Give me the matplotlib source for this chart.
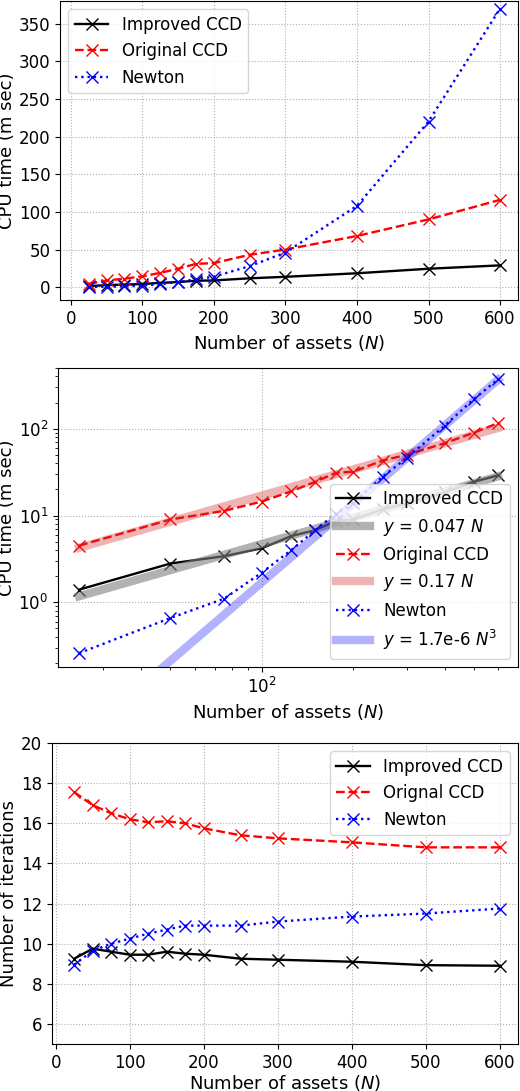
import matplotlib
matplotlib.use("Agg")
import matplotlib.pyplot as plt
import numpy as np

N = [25, 50, 75, 100, 125, 150, 175, 200, 250, 300, 400, 500, 600]
t_improved = [1.4, 2.8, 3.4, 4.2, 5.8, 6.8, 8.6, 9.0, 11.8, 13.8, 18.5, 24.5, 29.0]
t_original = [4.5, 9.0, 11.3, 14.5, 19.0, 24.5, 31.0, 32.0, 43.0, 50.0, 68.0, 90.0, 116.0]
t_newton = [0.26, 0.66, 1.1, 2.2, 4.0, 6.8, 10.5, 14.0, 28.0, 46.0, 108.0, 220.0, 370.0]
it_improved = [9.25, 9.75, 9.6, 9.45, 9.45, 9.6, 9.5, 9.45, 9.25, 9.2, 9.1, 8.93, 8.9]
it_original = [17.55, 16.9, 16.5, 16.2, 16.05, 16.1, 16.0, 15.75, 15.4, 15.25, 15.05, 14.8, 14.8]
it_newton = [8.95, 9.65, 10.0, 10.25, 10.5, 10.7, 10.9, 10.9, 10.9, 11.1, 11.35, 11.5, 11.75]
fit_improved = 0.047
fit_original = 0.17
fit_newton = 1.7e-6

plt.rcParams['lines.linewidth'] = 1.7
plt.rcParams['lines.markersize'] = 8
FS = 13
TS = 12
LS = 12

fig = plt.figure(figsize=(5.2, 10.91), dpi=100)
W, H = 520, 1091
def ax_at(l, t, r, b):
    return fig.add_axes([l / W, 1 - b / H, (r - l) / W, (b - t) / H])

ax1 = ax_at(60, 1, 518, 300)
ax1.plot(N, t_improved, 'k-x', label='Improved CCD')
ax1.plot(N, t_original, 'r--x', label='Original CCD')
ax1.plot(N, t_newton, 'b:x', label='Newton')
ax1.set_xlim(-15, 625)
ax1.set_ylim(-17, 380)
ax1.set_xticks([0, 100, 200, 300, 400, 500, 600])
ax1.grid(True, linestyle=':')
ax1.set_ylabel('CPU time (m sec)', fontsize=FS, labelpad=2)
ax1.set_xlabel('Number of assets ($N$)', fontsize=FS)
ax1.legend(loc='upper left', fontsize=LS)
ax1.tick_params(labelsize=TS)

ax2 = ax_at(58, 368, 518, 667)
Na = np.array(N, dtype=float)
ax2.plot(N, t_improved, 'k-x', label='Improved CCD')
ax2.plot(N, fit_improved * Na, color='gray', lw=6, alpha=0.6, label='$y$ = 0.047 $N$')
ax2.plot(N, t_original, 'r--x', label='Original CCD')
ax2.plot(N, fit_original * Na, color='tab:red', lw=6, alpha=0.35, label='$y$ = 0.17 $N$')
ax2.plot(N, t_newton, 'b:x', label='Newton')
ax2.plot(N, fit_newton * Na**3, color='blue', lw=6, alpha=0.3, label='$y$ = 1.7e-6 $N^3$')
ax2.set_xscale('log')
ax2.set_yscale('log')
ax2.set_xlim(21.3, 698)
ax2.set_ylim(0.18, 500)
ax2.grid(True, linestyle=':')
ax2.set_ylabel('CPU time (m sec)', fontsize=FS, labelpad=2)
ax2.set_xlabel('Number of assets ($N$)', fontsize=FS)
ax2.legend(loc='lower right', fontsize=LS)
ax2.tick_params(labelsize=TS)

ax3 = ax_at(52, 743, 518, 1044)
ax3.plot(N, it_improved, 'k-x', label='Improved CCD')
ax3.plot(N, it_original, 'r--x', label='Orignal CCD')
ax3.plot(N, it_newton, 'b:x', label='Newton')
ax3.set_xlim(-5, 625)
ax3.set_ylim(5, 20)
ax3.set_yticks([6, 8, 10, 12, 14, 16, 18, 20])
ax3.set_xticks([0, 100, 200, 300, 400, 500, 600])
ax3.grid(True, linestyle=':')
ax3.set_ylabel('Number of iterations', fontsize=FS, labelpad=2)
ax3.set_xlabel('Number of assets ($N$)', fontsize=FS, labelpad=1)
ax3.legend(loc='upper right', fontsize=LS)
ax3.tick_params(labelsize=TS)

fig.savefig('out.png', dpi=100)
